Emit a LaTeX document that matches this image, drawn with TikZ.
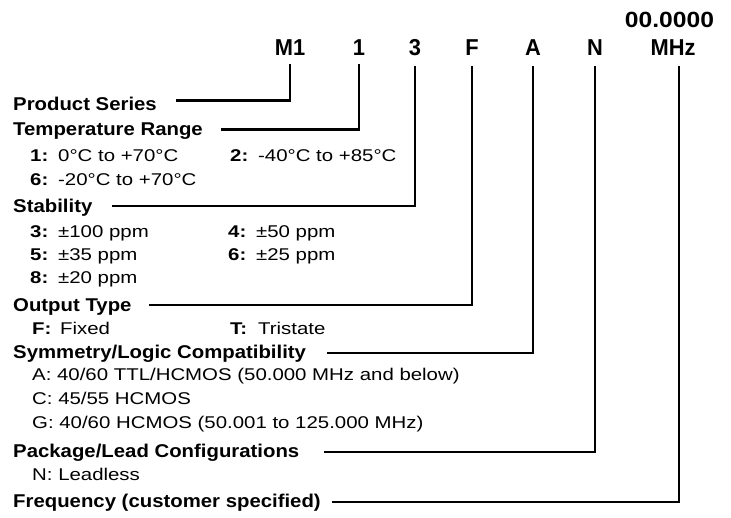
\documentclass[tikz,border=0pt]{standalone}
\usepackage{fontspec}
\setmainfont{Liberation Sans}
\newfontfamily\labfont[FakeStretch=1.1]{Liberation Sans}
\newfontfamily\bodyfont[FakeStretch=1.2]{Liberation Sans}
\newfontfamily\codefont[FakeStretch=0.95]{Liberation Sans}
\newfontfamily\digfont[FakeStretch=1.12]{Liberation Sans}
\newcommand{\kvrow}[2]{\makebox[28pt][l]{\bfseries #1}#2}
\begin{document}
\begin{tikzpicture}[x=1pt,y=-1pt,
  lab/.style={anchor=base west,inner sep=0pt,font=\labfont\fontsize{18.5}{21}\selectfont\bfseries},
  body/.style={anchor=base west,inner sep=0pt,font=\bodyfont\fontsize{17}{19}\selectfont},
  code/.style={anchor=base,inner xsep=0pt,inner ysep=10pt,font=\codefont\fontsize{23}{26}\selectfont\bfseries},
  conn/.style={line width=2.6pt,line cap=rect,line join=miter}]
\useasboundingbox (0,0) rectangle (731,517);
% code letters
\node[code] (cM1) at (290,55) {M1};
\node[code] (c1) at (359,55) {1};
\node[code,inner ysep=12pt] (c3) at (415,55) {3};
\node[code,inner ysep=12pt] (cF) at (472,55) {F};
\node[code,inner ysep=12pt] (cA) at (533,55) {A};
\node[code,inner ysep=12pt] (cN) at (595,55) {N};
\node[code,inner ysep=12pt] (cMHz) at (673,55) {MHz};
\node[anchor=base,inner sep=0pt,font=\digfont\fontsize{22}{25}\selectfont\bfseries] (cfreq) at (669.5,27) {00.0000};
% labels
\node[lab] (ps) at (13,110) {Product Series};
\node[lab] (tr) at (13,135) {Temperature Range};
\node[body] (tr1) at (30,161) {\kvrow{1:}{0°C to +70°C}};
\node[body] (tr2) at (230,161) {\kvrow{2:}{-40°C to +85°C}};
\node[body] (tr6) at (30,185) {\kvrow{6:}{-20°C to +70°C}};
\node[lab] (st) at (13,212) {Stability};
\node[body] (st3) at (30,237) {\kvrow{3:}{±100 ppm}};
\node[body] (st4) at (228,237) {\kvrow{4:}{±50 ppm}};
\node[body] (st5) at (30,260) {\kvrow{5:}{±35 ppm}};
\node[body] (st6) at (228,260) {\kvrow{6:}{±25 ppm}};
\node[body] (st8) at (30,283) {\kvrow{8:}{±20 ppm}};
\node[lab] (ot) at (13,311) {Output Type};
\node[body] (otF) at (32,334) {\kvrow{F:}{Fixed}};
\node[body] (otT) at (230,334) {\kvrow{T:}{Tristate}};
\node[lab] (sy) at (13,358) {Symmetry/Logic Compatibility};
\node[body] (syA) at (32,380) {A: 40/60 TTL/HCMOS (50.000 MHz and below)};
\node[body] (syC) at (32,404) {C: 45/55 HCMOS};
\node[body] (syG) at (32,428) {G: 40/60 HCMOS (50.001 to 125.000 MHz)};
\node[lab] (pk) at (13,457) {Package/Lead Configurations};
\node[body] (pkN) at (32,480) {N: Leadless};
\node[lab] (fr) at (13,507) {Frequency (customer specified)};
% connector start points
\coordinate (psL) at (177,100.7);
\coordinate (trL) at (222,129.5);
\coordinate (stL) at (113,206);
\coordinate (otL) at (150,305);
\coordinate (syL) at (328,353);
\coordinate (pkL) at (325,452);
\coordinate (frL) at (333,502);
\draw[conn] (psL) -| (cM1.south);
\draw[conn] (trL) -| (c1.south);
\draw[conn] (stL) -| (c3.south);
\draw[conn] (otL) -| (cF.south);
\draw[conn] (syL) -| (cA.south);
\draw[conn] (pkL) -| (cN.south);
\draw[conn] (frL) -| ([xshift=6pt]cMHz.south);
\end{tikzpicture}
\end{document}
